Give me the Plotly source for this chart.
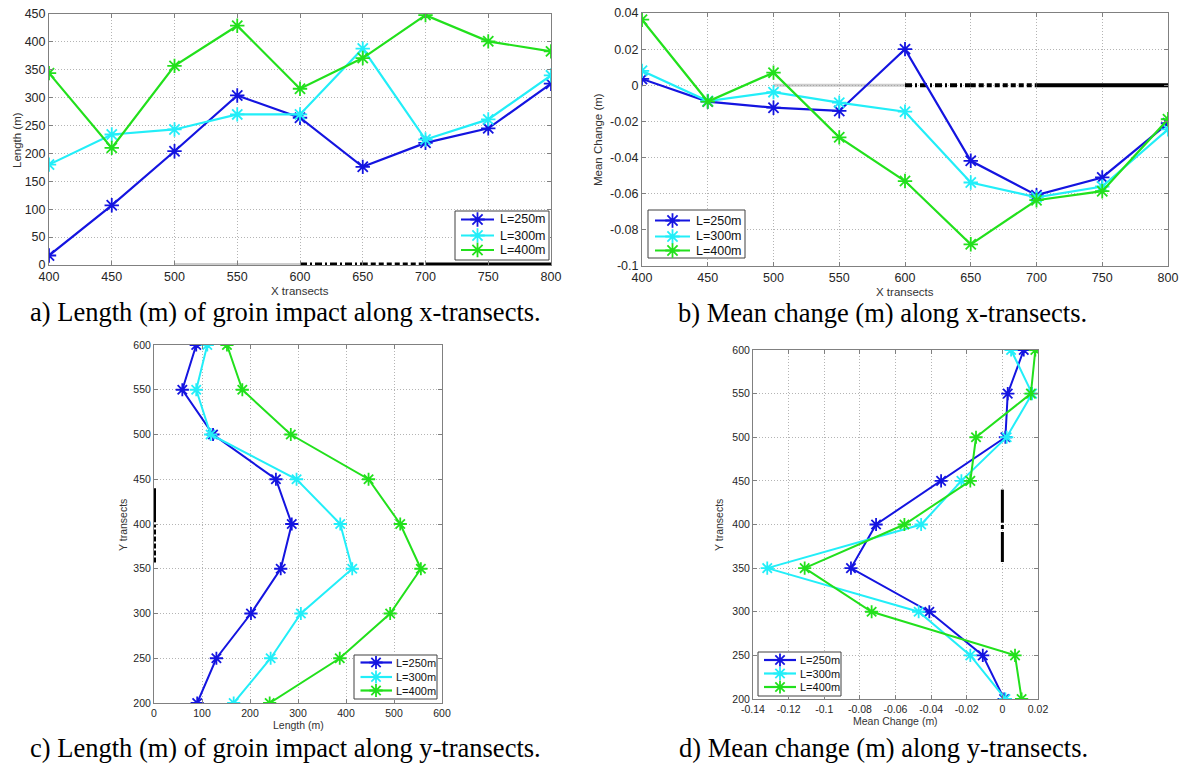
import plotly.graph_objects as go

# ---- data -------------------------------------------------------------
x_transects = [400, 450, 500, 550, 600, 650, 700, 750, 800]
y_transects = [200, 250, 300, 350, 400, 450, 500, 550, 600]
series_names = ["L=250m", "L=300m", "L=400m"]

# a) impact length along x-transects (m)
len_x_250 = [17, 107, 204, 304, 264, 176, 219, 245, 325]
len_x_300 = [180, 234, 243, 270, 270, 388, 225, 261, 340]
len_x_400 = [344, 210, 357, 429, 316, 371, 448, 401, 383]

# b) mean change along x-transects (m)
chg_x_250 = [0.0035, -0.009, -0.0124, -0.0142, 0.020, -0.0418, -0.0608, -0.051, -0.021]
chg_x_300 = [0.008, -0.0087, -0.0038, -0.0096, -0.0146, -0.0538, -0.062, -0.056, -0.0244]
chg_x_400 = [0.0363, -0.009, 0.007, -0.0288, -0.053, -0.088, -0.0636, -0.0586, -0.0188]

# c) impact length along y-transects (m), ordered as y_transects
len_y_250 = [90, 130, 202, 264, 287, 254, 123, 59, 88]
len_y_300 = [166, 243, 306, 413, 388, 297, 118, 88, 111]
len_y_400 = [241, 387, 492, 556, 513, 447, 285, 184, 152]

# d) mean change along y-transects (m), ordered as y_transects
chg_y_250 = [0.001, -0.011, -0.041, -0.085, -0.0709, -0.0344, 0.0017, 0.003, 0.012]
chg_y_300 = [0.0017, -0.018, -0.047, -0.132, -0.0456, -0.023, 0.0024, 0.0167, 0.0049]
chg_y_400 = [0.0108, 0.0071, -0.0734, -0.111, -0.055, -0.018, -0.0148, 0.016, 0.0185]

# groin footprint segments (start, end) along the transect axis
groin_x_segments = [(500, 600), (600, 650), (650, 700), (700, 800)]
groin_y_segments = [(402, 440), (357, 400)]

# tick labels
len_x_ticks = [0, 50, 100, 150, 200, 250, 300, 350, 400, 450]
chg_x_ticks = [-0.1, -0.08, -0.06, -0.04, -0.02, 0, 0.02, 0.04]
chg_x_ticktext = ["-0.1", "-0.08", "-0.06", "-0.04", "-0.02", "0", "0.02", "0.04"]
len_y_ticks = [0, 100, 200, 300, 400, 500, 600]
chg_y_ticks = [-0.14, -0.12, -0.1, -0.08, -0.06, -0.04, -0.02, 0, 0.02]
chg_y_ticktext = ["-0.14", "-0.12", "-0.1", "-0.08", "-0.06", "-0.04", "-0.02", "0", "0.02"]

captions = [
    "a) Length (m) of groin impact along x-transects.",
    "b) Mean change (m) along x-transects.",
    "c) Length (m) of groin impact along y-transects.",
    "d) Mean change (m) along y-transects.",
]

# ---- styling ----------------------------------------------------------
W, H = 1186, 769
colors = ["#1414e0", "#22eef8", "#22e01c"]
SANS = "Liberation Sans, Arial, sans-serif"
SERIF = "Times New Roman, Liberation Serif, serif"


def px_x(p):
    return p / W


def px_y(p):
    return 1 - p / H


fig = go.Figure()


def add_series(xs_list, ys_list, xa, ya, msize, lw):
    for name, xs, ys, c in zip(series_names, xs_list, ys_list, colors):
        fig.add_trace(go.Scatter(
            x=xs, y=ys, name=name, mode="lines+markers",
            line=dict(color=c, width=lw),
            marker=dict(symbol="asterisk-open", size=msize,
                        line=dict(color=c, width=1.8), color=c),
            xaxis=xa, yaxis=ya, showlegend=False,
        ))


def add_groin_h(xa, ya, width):
    styles = [("#9a9a9a", "1px,1px", width - 1), ("black", "7px,3px,2px,3px", width),
              ("black", "5px,3px", width), ("black", "solid", width)]
    for (s, e), (c, d, w) in zip(groin_x_segments, styles):
        fig.add_trace(go.Scatter(
            x=[s, e], y=[0, 0], mode="lines", showlegend=False,
            line=dict(color=c, dash=d, width=w), xaxis=xa, yaxis=ya,
            hoverinfo="skip"))


def add_groin_v(xa, ya, width, dashes):
    for (s, e), d in zip(groin_y_segments, dashes):
        fig.add_trace(go.Scatter(
            x=[0, 0], y=[s, e], mode="lines", showlegend=False,
            line=dict(color="black", dash=d, width=width), xaxis=xa, yaxis=ya,
            hoverinfo="skip"))


# panel a
add_groin_h("x", "y", 5)
add_series([x_transects] * 3, [len_x_250, len_x_300, len_x_400], "x", "y", 12, 2.2)
# panel b
add_groin_h("x2", "y2", 4)
add_series([x_transects] * 3, [chg_x_250, chg_x_300, chg_x_400], "x2", "y2", 12, 2.2)
# panel c
add_groin_v("x3", "y3", 4, ["solid", "5px,2px"])
add_series([len_y_250, len_y_300, len_y_400], [y_transects] * 3, "x3", "y3", 11, 2)
# panel d
add_groin_v("x4", "y4", 3, ["solid", "30px,3px,4px,3px"])
add_series([chg_y_250, chg_y_300, chg_y_400], [y_transects] * 3, "x4", "y4", 11, 2)


def axis(domain, rng, tickvals=None, ticktext=None, dtick=None, fsize=12.5, anchor=None):
    a = dict(domain=domain, range=rng, showgrid=True, gridcolor="#b4b4b4",
             griddash="1px,2px", gridwidth=1, showline=True, linecolor="#808080",
             linewidth=1, mirror="ticks", ticks="inside", ticklen=4,
             tickcolor="#808080", zeroline=False, anchor=anchor, automargin=False,
             tickfont=dict(family=SANS, size=fsize, color="#262626"))
    if tickvals is not None:
        a["tickmode"] = "array"
        a["tickvals"] = tickvals
        if ticktext is not None:
            a["ticktext"] = ticktext
    if dtick is not None:
        a["dtick"] = dtick
        a["tick0"] = 0
    return a


layout = dict(
    width=W, height=H, margin=dict(l=0, r=0, t=0, b=0, autoexpand=False),
    paper_bgcolor="white", plot_bgcolor="white", showlegend=False,
    xaxis=axis([px_x(49), px_x(551)], [400, 800], dtick=50, anchor="y"),
    yaxis=axis([px_y(265), px_y(14)], [0, 450], tickvals=len_x_ticks, anchor="x"),
    xaxis2=axis([px_x(642), px_x(1168)], [400, 800], dtick=50, anchor="y2"),
    yaxis2=axis([px_y(266), px_y(13)], [-0.1, 0.04], tickvals=chg_x_ticks,
                ticktext=chg_x_ticktext, anchor="x2"),
    xaxis3=axis([px_x(154), px_x(442)], [0, 600], tickvals=len_y_ticks, fsize=10.5, anchor="y3"),
    yaxis3=axis([px_y(703), px_y(345)], [200, 600], dtick=50, fsize=10.5, anchor="x3"),
    xaxis4=axis([px_x(753), px_x(1038)], [-0.14, 0.02], tickvals=chg_y_ticks,
                ticktext=chg_y_ticktext, fsize=10.5, anchor="y4"),
    yaxis4=axis([px_y(699), px_y(350)], [200, 600], dtick=50, fsize=10.5, anchor="x4"),
)

# ---- legends: each drawn in its own small pixel-unit subplot ----------
# (box left, top, right, bottom), entry rows, line x0/x1, marker x, text x, font size
legend_specs = [
    ((455, 211, 549, 260), (219.5, 235.5, 250), (461, 494), 477.5, 498, 12.5, 12),
    ((648, 210, 745, 258), (220.5, 236.5, 250.5), (655, 690), 672.5, 694, 12.5, 12),
    ((354, 655, 437, 699), (662.5, 677, 690.5), (360.5, 392), 376, 394, 11, 11),
    ((758, 652, 841, 696), (660, 673.5, 687), (764, 796), 780, 798, 11, 11),
]
annotations = []
for i, (box, rows, (lx0, lx1), mx, tx, fs, ms) in enumerate(legend_specs):
    n = 5 + i
    l, t, r, b = box
    xa, ya = f"x{n}", f"y{n}"
    layout[f"xaxis{n}"] = dict(domain=[px_x(l - 1), px_x(r + 1)], range=[l - 1, r + 1],
                               visible=False, anchor=ya, fixedrange=True)
    layout[f"yaxis{n}"] = dict(domain=[px_y(b + 1), px_y(t - 1)], range=[b + 1, t - 1],
                               visible=False, anchor=xa, fixedrange=True)
    fig.add_trace(go.Scatter(
        x=[l, r, r, l, l], y=[t, t, b, b, t], mode="lines", fill="toself",
        fillcolor="white", line=dict(color="#404040", width=1),
        xaxis=xa, yaxis=ya, showlegend=False, hoverinfo="skip"))
    for name, c, yy in zip(series_names, colors, rows):
        fig.add_trace(go.Scatter(
            x=[lx0, mx, lx1], y=[yy, yy, yy], mode="lines",
            line=dict(color=c, width=2.2), xaxis=xa, yaxis=ya,
            showlegend=False, hoverinfo="skip"))
        fig.add_trace(go.Scatter(
            x=[mx], y=[yy], mode="markers",
            marker=dict(symbol="asterisk-open", size=ms, color=c,
                        line=dict(color=c, width=1.8)),
            xaxis=xa, yaxis=ya, showlegend=False, hoverinfo="skip"))
        annotations.append(dict(text=name, x=px_x(tx), y=px_y(yy), xref="paper",
                                yref="paper", showarrow=False, xanchor="left",
                                yanchor="middle",
                                font=dict(family=SANS, size=fs, color="#111")))

fig.update_layout(**layout)

# axis titles
axis_titles = [
    ("X transects", 300, 291, 0, 11.5),
    ("Length (m)", 17, 140, -90, 11.5),
    ("X transects", 905, 292, 0, 11.5),
    ("Mean Change (m)", 598, 140, -90, 11.5),
    ("Length (m)", 298, 725, 0, 10.5),
    ("Y transects", 123, 525, -90, 10.5),
    ("Mean Change (m)", 895, 721, 0, 10.5),
    ("Y transects", 719, 525, -90, 10.5),
]
for text, xp, yp, ang, fs in axis_titles:
    annotations.append(dict(text=text, x=px_x(xp), y=px_y(yp), xref="paper", yref="paper",
                            showarrow=False, textangle=ang, xanchor="center",
                            yanchor="middle",
                            font=dict(family=SANS, size=fs, color="#333")))

# panel captions
caption_pos = [(28, 312), (676, 313), (28, 748), (677, 748)]
for text, (xp, yp) in zip(captions, caption_pos):
    annotations.append(dict(text=text, x=px_x(xp), y=px_y(yp), xref="paper", yref="paper",
                            showarrow=False, xanchor="left", yanchor="middle",
                            font=dict(family=SERIF, size=26.5, color="black")))

fig.update_layout(annotations=annotations)
fig.write_html("out.html")
